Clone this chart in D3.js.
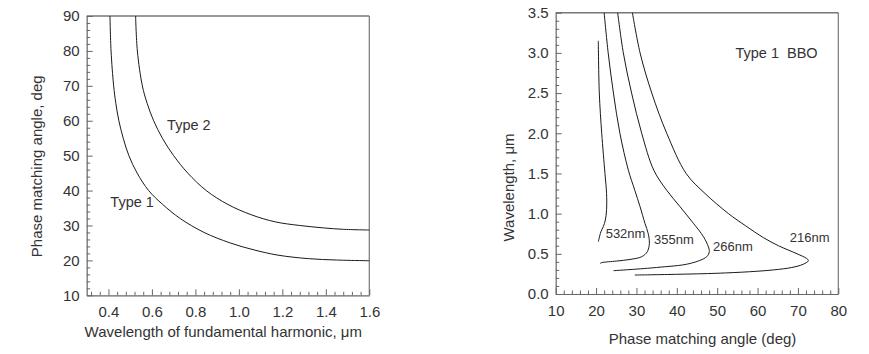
<!DOCTYPE html>
<html>
<head>
<meta charset="utf-8">
<script src="https://cdn.jsdelivr.net/npm/d3@7/dist/d3.min.js"></script>
<style>
  html, body { margin: 0; padding: 0; background: #fff; }
  svg { display: block; font-family: "Liberation Sans", Arial, sans-serif; }
</style>
</head>
<body>
<svg id="chart" width="869" height="354"></svg>
<script>
// ---------- Left chart data: wavelength (µm) vs phase matching angle (deg) ----------
const leftXTicks = [0.4, 0.6, 0.8, 1.0, 1.2, 1.4, 1.6];
const leftYTicks = [10, 20, 30, 40, 50, 60, 70, 80, 90];
const type1 = [[0.407, 90], [0.412, 80], [0.424, 70], [0.434, 65], [0.448, 60], [0.468, 55],
  [0.494, 50], [0.532, 45], [0.585, 40], [0.65, 36], [0.73, 32], [0.84, 28], [0.96, 25],
  [1.07, 23], [1.18, 21.5], [1.32, 20.5], [1.45, 20.1], [1.6, 19.9]];
const type2 = [[0.525, 90], [0.533, 80], [0.556, 70], [0.578, 65], [0.608, 60], [0.648, 55],
  [0.70, 50], [0.765, 45], [0.85, 40], [0.95, 36], [1.06, 33], [1.17, 31], [1.28, 30],
  [1.39, 29.3], [1.48, 28.9], [1.6, 28.7]];
const leftLabels = [{ text: "Type 2", x: 0.77, y: 58.8 }, { text: "Type 1", x: 0.509, y: 36.8 }];

// ---------- Right chart data: phase matching angle (deg) vs wavelength (µm) ----------
const rightXTicks = [10, 20, 30, 40, 50, 60, 70, 80];
const rightYTicks = [0.0, 0.5, 1.0, 1.5, 2.0, 2.5, 3.0, 3.5];
const c532 = [[20.55, 3.15], [20.8, 2.5], [21.4, 2.0], [22.2, 1.5], [22.6, 1.25], [22.6, 1.05],
  [22.3, 0.92], [21.8, 0.84], [21.2, 0.775], [20.7, 0.68], [20.55, 0.65]];
const c355 = [[22.0, 3.5], [23.0, 3.0], [24.3, 2.5], [25.9, 2.0], [28.0, 1.54], [29.6, 1.29],
  [30.9, 1.086], [32.1, 0.88], [32.9, 0.755], [33.2, 0.63], [32.7, 0.527], [31.3, 0.464],
  [28.4, 0.43], [25.1, 0.41], [21.4, 0.39], [21.0, 0.38]];
const c266 = [[25.35, 3.5], [26.75, 3.0], [28.8, 2.5], [31.3, 2.0], [34.3, 1.54], [37.5, 1.29],
  [40.8, 1.086], [44.1, 0.88], [46.6, 0.713], [47.8, 0.589], [48.05, 0.527], [47.4, 0.464],
  [43.3, 0.38], [35.0, 0.33], [24.3, 0.29]];
const c216 = [[29.0, 3.5], [30.9, 3.0], [33.8, 2.5], [37.5, 2.0], [42.3, 1.5], [47.0, 1.25],
  [52.8, 1.0], [57.0, 0.85], [61.5, 0.7], [65.2, 0.6], [69.8, 0.5], [72.1, 0.444],
  [72.6, 0.415], [71.3, 0.37], [68.5, 0.33], [64.0, 0.3], [58.0, 0.277], [50.0, 0.258],
  [40.0, 0.245], [29.6, 0.236]];
const rightCurves = [c532, c355, c266, c216];
const rightLabels = [{ text: "532nm", x: 27.3, y: 0.757 }, { text: "355nm", x: 39.3, y: 0.672 },
  { text: "266nm", x: 53.9, y: 0.597 }, { text: "216nm", x: 72.9, y: 0.70 }];
const rightTitle = "Type 1  BBO";

const svg = d3.select("#chart");
const textColor = "#333";
const lineColor = "#1a1a1a";
const frameColor = "#666";
const fontSize = 15;

function range(a, b, step) {
  const out = [];
  const n = Math.round((b - a) / step);
  for (let i = 0; i <= n; i++) out.push(+(a + i * step).toFixed(6));
  return out;
}

function drawPanel(cfg) {
  const g = svg.append("g");
  const x = cfg.x, y = cfg.y;
  const [x0, x1] = x.range();
  const [y0, y1] = y.range();

  // frame (top and right)
  g.append("line").attr("x1", x0).attr("x2", x1).attr("y1", y1).attr("y2", y1)
    .attr("stroke", "#777").attr("stroke-width", 1.6);
  g.append("line").attr("x1", x1).attr("x2", x1).attr("y1", y1).attr("y2", y0)
    .attr("stroke", "#777").attr("stroke-width", 1.2);

  // minor ticks
  const isMajor = (v, majors) => majors.some(m => Math.abs(m - v) < 1e-6);
  const xMinor = cfg.xMinor.filter(v => !isMajor(v, cfg.xTicks));
  const yMinor = cfg.yMinor.filter(v => !isMajor(v, cfg.yTicks));
  g.append("g").attr("transform", `translate(0,${y0})`)
    .call(d3.axisBottom(x).tickValues(xMinor).tickSize(-3.5).tickFormat(""))
    .call(a => a.select(".domain").remove())
    .call(a => a.selectAll("line").attr("stroke", frameColor));
  g.append("g").attr("transform", `translate(${x0},0)`)
    .call(d3.axisLeft(y).tickValues(yMinor).tickSize(-3.5).tickFormat(""))
    .call(a => a.select(".domain").remove())
    .call(a => a.selectAll("line").attr("stroke", frameColor));

  // major axes
  const xa = g.append("g").attr("transform", `translate(0,${y0})`)
    .call(d3.axisBottom(x).tickValues(cfg.xTicks).tickSizeInner(-6).tickSizeOuter(0)
      .tickPadding(11).tickFormat(cfg.xFormat));
  const ya = g.append("g").attr("transform", `translate(${x0},0)`)
    .call(d3.axisLeft(y).tickValues(cfg.yTicks).tickSizeInner(-6).tickSizeOuter(0)
      .tickPadding(7).tickFormat(cfg.yFormat));
  [xa, ya].forEach(a => {
    a.select(".domain").attr("stroke", frameColor).attr("stroke-width", 1.2);
    a.selectAll(".tick line").attr("stroke", frameColor);
    a.selectAll("text").attr("fill", textColor).style("font-size", fontSize + "px")
      .style("font-family", '"Liberation Sans", Arial, sans-serif');
  });

  // curves
  const line = d3.line().x(d => x(d[0])).y(d => y(d[1])).curve(d3.curveCatmullRom.alpha(0.5));
  g.selectAll("path.curve").data(cfg.curves).enter().append("path")
    .attr("class", "curve").attr("d", line)
    .attr("fill", "none").attr("stroke", lineColor).attr("stroke-width", 1);

  // labels
  g.selectAll("text.lab").data(cfg.labels).enter().append("text")
    .attr("class", "lab")
    .attr("x", d => x(d.x)).attr("y", d => y(d.y))
    .attr("text-anchor", "middle").attr("dominant-baseline", "central")
    .attr("fill", textColor).style("font-size", d => (d.size || cfg.labelSize) + "px")
    .style("white-space", "pre")
    .text(d => d.text);

  // axis titles
  g.append("text").attr("x", cfg.xTitlePos[0]).attr("y", cfg.xTitlePos[1])
    .attr("text-anchor", "middle").attr("dominant-baseline", "central")
    .attr("fill", textColor).style("font-size", fontSize + "px").text(cfg.xTitle);
  g.append("text")
    .attr("transform", `translate(${cfg.yTitlePos[0]},${cfg.yTitlePos[1]}) rotate(-90)`)
    .attr("text-anchor", "middle").attr("dominant-baseline", "central")
    .attr("fill", textColor).style("font-size", fontSize + "px").text(cfg.yTitle);
}

// Left panel
drawPanel({
  x: d3.scaleLinear().domain([0.3, 1.6]).range([86.7, 369.3]),
  y: d3.scaleLinear().domain([10, 90]).range([295.3, 16]),
  xTicks: leftXTicks, yTicks: leftYTicks,
  xMinor: range(0.32, 1.56, 0.04), yMinor: range(12, 88, 2),
  xFormat: d3.format(".1f"), yFormat: d3.format("d"),
  curves: [type1, type2],
  labels: leftLabels, labelSize: 14.5,
  xTitle: "Wavelength of fundamental harmonic, μm", xTitlePos: [223.3, 331.5],
  yTitle: "Phase matching angle, deg", yTitlePos: [36.5, 166.3]
});

// Right panel
drawPanel({
  x: d3.scaleLinear().domain([10, 80]).range([555.7, 838.3]),
  y: d3.scaleLinear().domain([0, 3.5]).range([294, 12.7]),
  xTicks: rightXTicks, yTicks: rightYTicks,
  xMinor: range(12, 78, 2), yMinor: range(0.1, 3.4, 0.1),
  xFormat: d3.format("d"), yFormat: d3.format(".1f"),
  curves: rightCurves,
  labels: rightLabels.concat([{ text: rightTitle, x: 64.7, y: 3.0, size: 14.5 }]), labelSize: 13,
  xTitle: "Phase matching angle (deg)", xTitlePos: [702.5, 338.3],
  yTitle: "Wavelength, μm", yTitlePos: [508.3, 187.5]
});
</script>
</body>
</html>
